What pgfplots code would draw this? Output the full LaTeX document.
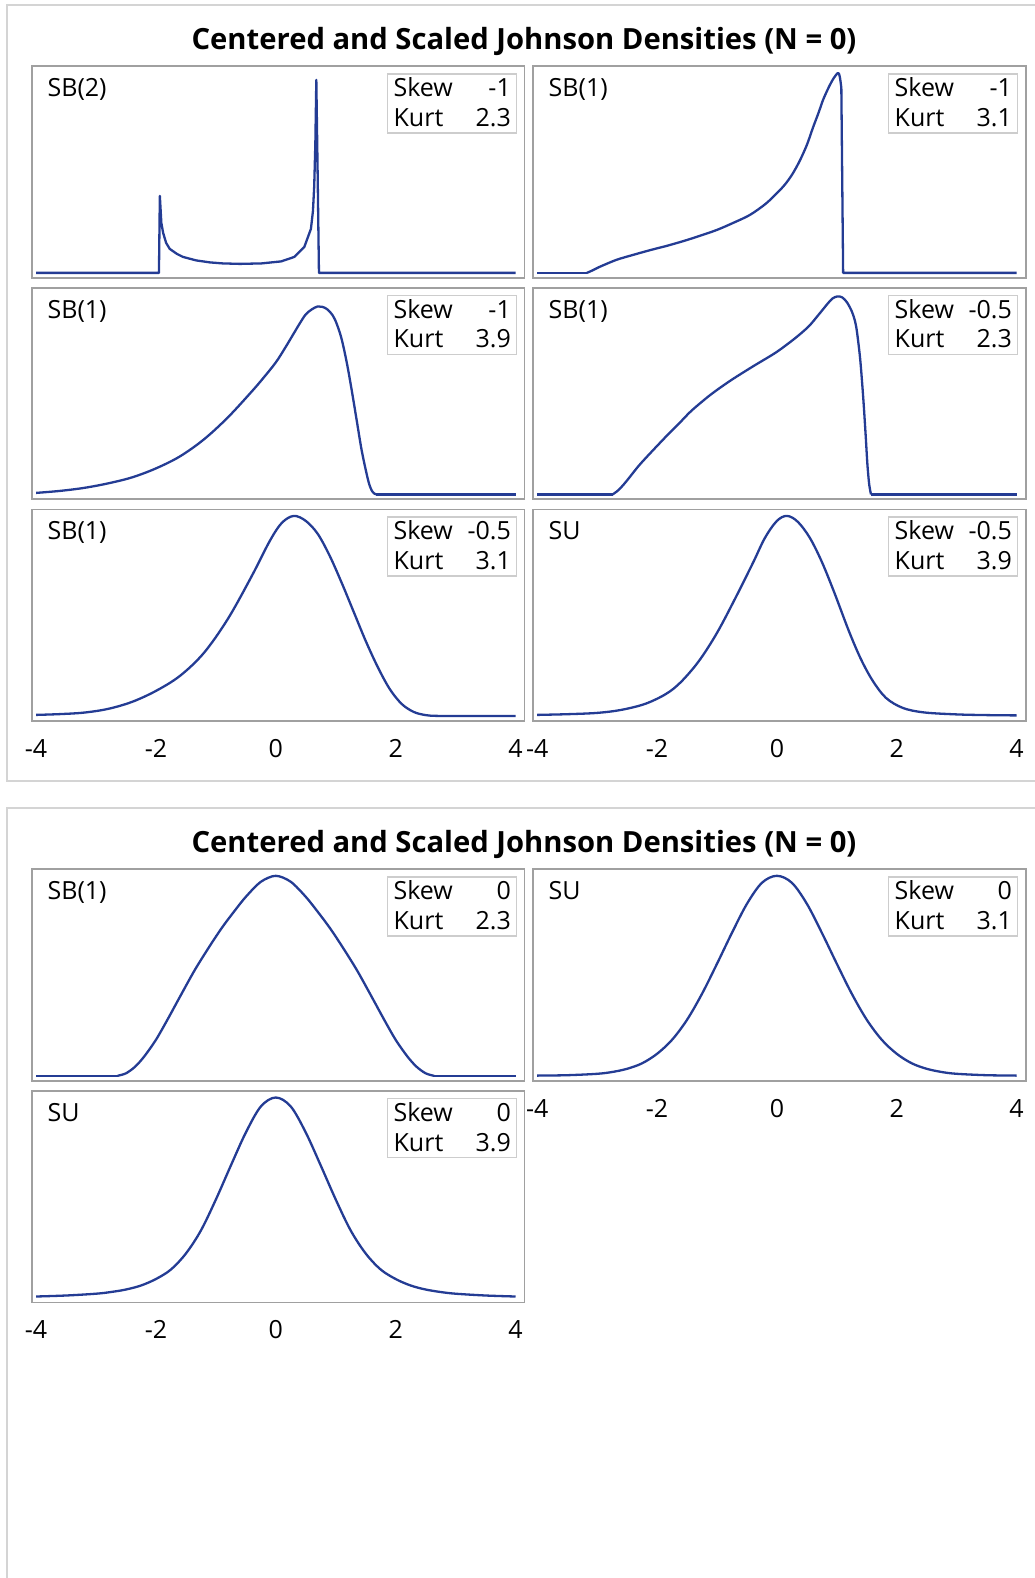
\documentclass[border=0pt]{standalone}
\usepackage{pgfplots}
\pgfplotsset{compat=1.18}
\usepackage{fontspec}
\setmainfont{Open Sans}
\definecolor{curve}{RGB}{36,60,148}
\definecolor{pframe}{RGB}{160,160,160}
\definecolor{lframe}{RGB}{205,205,205}
\definecolor{oframe}{RGB}{212,212,212}
\newcommand\tf{\fontsize{12.5}{15}\selectfont}
\pgfplotsset{
  jp/.style={scale only axis, width=246.15pt, height=105.75pt, anchor=north west,
    xmin=-4.065, xmax=4.15, ymin=-5, ymax=206.5,
    ytick=\empty, xtick=\empty,
    axis line style={draw=pframe, line width=0.9pt}},
  jc/.style={draw=curve, line width=1.15pt, mark=none, line join=round},
  jpt/.style={xtick={-4,-2,0,2,4}, xticklabels={-4,-2,0,2,4}, major tick length=0pt,
    xticklabel style={anchor=base, yshift=-18.2pt, font=\tf}}
}
\newcommand\panel[5]{% left px, top px, name, skew, kurt
  \node[anchor=base west, inner sep=0, font=\tf] at (#1+15,#2+30.5) {#3};
  \draw[lframe, line width=0.8pt, fill=white] (#1+355.3,#2+7.6) rectangle ++(129,59);
  \node[anchor=base west, inner sep=0, font=\tf] at (#1+361,#2+30.5) {Skew};
  \node[anchor=base west, inner sep=0, font=\tf] at (#1+361,#2+60) {Kurt};
  \node[anchor=base east, inner sep=0, font=\tf] at (#1+479,#2+30.5) {#4};
  \node[anchor=base east, inner sep=0, font=\tf] at (#1+479,#2+60) {#5};
}
\begin{document}
\begin{tikzpicture}
\path[use as bounding box] (0,0) rectangle (517pt,-789pt);
\begin{scope}[x=0.5pt,y=-0.5pt]
\draw[oframe, line width=0.9pt] (7,5) rectangle (1045,781);
\draw[oframe, line width=0.9pt] (7,808) rectangle (1045,1600);
\node[font=\bfseries\fontsize{14.6}{17}\selectfont] at (524,41.5) {Centered and Scaled Johnson Densities (N = 0)};
\node[font=\bfseries\fontsize{14.6}{17}\selectfont] at (524,844.5) {Centered and Scaled Johnson Densities (N = 0)};
\end{scope}

% ---- top graph ----
\begin{axis}[jp, at={(16.1pt,-33.2pt)}]
\addplot[jc] coordinates {(-4,0) (-1.95,0) (-1.935,77) (-1.91,50) (-1.88,40) (-1.83,30) (-1.77,24) (-1.65,19) (-1.55,16) (-1.33,12.5) (-1.1,10.5) (-0.89,9.5) (-0.6,9) (-0.235,9.5) (0.09,11.5) (0.31,16) (0.476,26) (0.586,44) (0.62,62) (0.641,87) (0.66,130) (0.676,193) (0.698,100) (0.72,0) (4,0)};
\end{axis}
\begin{axis}[jp, at={(266.65pt,-33.2pt)}]
\addplot[jc] coordinates {(-4,0) (-3.17,0)};
\addplot[jc, smooth, tension=0.5] coordinates {(-3.17,0) (-3.06,3) (-2.96,6) (-2.68,13) (-2.4,18) (-2.1,23) (-1.84,27) (-1.55,32) (-1.29,37) (-1.0,43) (-0.73,50) (-0.45,58) (-0.17,70) (0.1,86) (0.25,98) (0.38,112) (0.5,128) (0.6,145) (0.7,161) (0.77,173) (0.86,185) (0.94,194) (1.02,200) (1.05,196) (1.075,185)};
\addplot[jc] coordinates {(1.075,185) (1.105,0) (4,0)};
\end{axis}
\begin{axis}[jp, at={(16.1pt,-143.95pt)}]
\addplot[jc, smooth, tension=0.55] coordinates {(-4,1.5) (-3.6,3.5) (-3.2,6.5) (-2.8,11) (-2.4,17) (-2.0,26) (-1.6,38) (-1.2,55) (-0.8,77) (-0.4,103) (-0.2,117) (0,132) (0.15,146) (0.3,161) (0.4,171) (0.5,180) (0.6,185) (0.7,188) (0.78,187.5) (0.86,185) (0.95,179) (1.02,170) (1.1,155) (1.19,130) (1.27,103) (1.35,74) (1.43,45) (1.51,22) (1.56,10) (1.6,4) (1.64,1) (1.68,0)};
\addplot[jc] coordinates {(1.68,0) (4,0)};
\end{axis}
\begin{axis}[jp, at={(266.65pt,-143.95pt)}]
\addplot[jc] coordinates {(-4,0) (-2.74,0)};
\addplot[jc, smooth, tension=0.5] coordinates {(-2.74,0) (-2.67,3) (-2.6,7) (-2.5,14) (-2.3,29) (-2.07,44) (-1.8,61) (-1.6,73) (-1.42,84) (-1.1,100) (-0.77,114) (-0.4,128) (-0.015,142) (0.3,156) (0.53,168) (0.7,180) (0.85,191) (0.93,196) (1.01,198) (1.09,197) (1.17,192) (1.25,183) (1.3,174) (1.335,163) (1.39,135) (1.44,97) (1.48,60) (1.51,30) (1.54,10) (1.57,0)};
\addplot[jc] coordinates {(1.57,0) (4,0)};
\end{axis}
\begin{axis}[jp, jpt, at={(16.1pt,-254.7pt)}]
\addplot[jc, smooth, tension=0.55] coordinates {(-4,1) (-3.6,1.8) (-3.2,3.3) (-2.8,7) (-2.4,14) (-2.0,25) (-1.6,40) (-1.2,63) (-0.8,97) (-0.4,140) (-0.1,175) (0.1,193) (0.3,200) (0.5,195) (0.7,182) (0.9,160) (1.1,133) (1.3,104) (1.5,75) (1.7,49) (1.9,27) (2.1,12) (2.3,4) (2.5,0.8) (2.7,0) (3.2,0) (4,0)};
\end{axis}
\begin{axis}[jp, jpt, at={(266.65pt,-254.7pt)}]
\addplot[jc, smooth, tension=0.55] coordinates {(-4,1) (-3.5,1.7) (-3.0,3) (-2.6,6) (-2.2,12) (-1.85,22) (-1.6,34) (-1.3,55) (-1.0,83) (-0.7,117) (-0.4,153) (-0.2,178) (0,195) (0.17,200) (0.35,194) (0.55,178) (0.75,154) (0.96,123) (1.2,85) (1.4,57) (1.6,35) (1.82,18) (2.1,8) (2.45,3.5) (3,1.5) (3.5,0.8) (4,0.5)};
\end{axis}

% ---- second graph ----
\begin{axis}[jp, at={(16.1pt,-434.65pt)}]
\addplot[jc] coordinates {(-4,0) (-2.64,0)};
\addplot[jc, smooth, tension=0.5] coordinates {(-2.64,0) (-2.5,2.5) (-2.35,9) (-2.2,19) (-2.0,36) (-1.8,57) (-1.6,79) (-1.35,106) (-1.1,130) (-0.9,148) (-0.7,164) (-0.5,179) (-0.25,194) (0,200) (0.25,194) (0.5,179) (0.7,164) (0.9,148) (1.1,130) (1.35,106) (1.6,79) (1.8,57) (2.0,36) (2.2,19) (2.35,9) (2.5,2.5) (2.64,0)};
\addplot[jc] coordinates {(2.64,0) (4,0)};
\end{axis}
\begin{axis}[jp, jpt, at={(266.65pt,-434.65pt)}]
\addplot[jc, smooth, tension=0.55] coordinates {(-4,0.2) (-3.5,0.6) (-3.0,2) (-2.75,3.8) (-2.5,7) (-2.25,12.5) (-2.0,22) (-1.75,36) (-1.5,56) (-1.25,82) (-1.0,112) (-0.75,143) (-0.5,172) (-0.25,193) (0,200) (0.25,193) (0.5,172) (0.75,143) (1.0,112) (1.25,82) (1.5,56) (1.75,36) (2.0,22) (2.25,12.5) (2.5,7) (2.75,3.8) (3.0,2) (3.5,0.6) (4,0.2)};
\end{axis}
\begin{axis}[jp, jpt, at={(16.1pt,-545.5pt)}]
\addplot[jc, smooth, tension=0.55] coordinates {(-4,1) (-3.5,2) (-3.0,3.8) (-2.75,5.5) (-2.5,8) (-2.25,12) (-2.0,18.5) (-1.75,28) (-1.5,44) (-1.25,67) (-1.0,98) (-0.75,132) (-0.5,165) (-0.25,191) (0,200) (0.25,191) (0.5,165) (0.75,132) (1.0,98) (1.25,67) (1.5,44) (1.75,28) (2.0,18.5) (2.25,12) (2.5,8) (2.75,5.5) (3.0,3.8) (3.5,2) (4,1)};
\end{axis}

\begin{scope}[x=0.5pt,y=-0.5pt]
\panel{32.2}{66.4}{SB(2)}{-1}{2.3}
\panel{533.3}{66.4}{SB(1)}{-1}{3.1}
\panel{32.2}{287.9}{SB(1)}{-1}{3.9}
\panel{533.3}{287.9}{SB(1)}{-0.5}{2.3}
\panel{32.2}{509.4}{SB(1)}{-0.5}{3.1}
\panel{533.3}{509.4}{SU}{-0.5}{3.9}
\panel{32.2}{869.3}{SB(1)}{0}{2.3}
\panel{533.3}{869.3}{SU}{0}{3.1}
\panel{32.2}{1091}{SU}{0}{3.9}
\end{scope}
\end{tikzpicture}
\end{document}
